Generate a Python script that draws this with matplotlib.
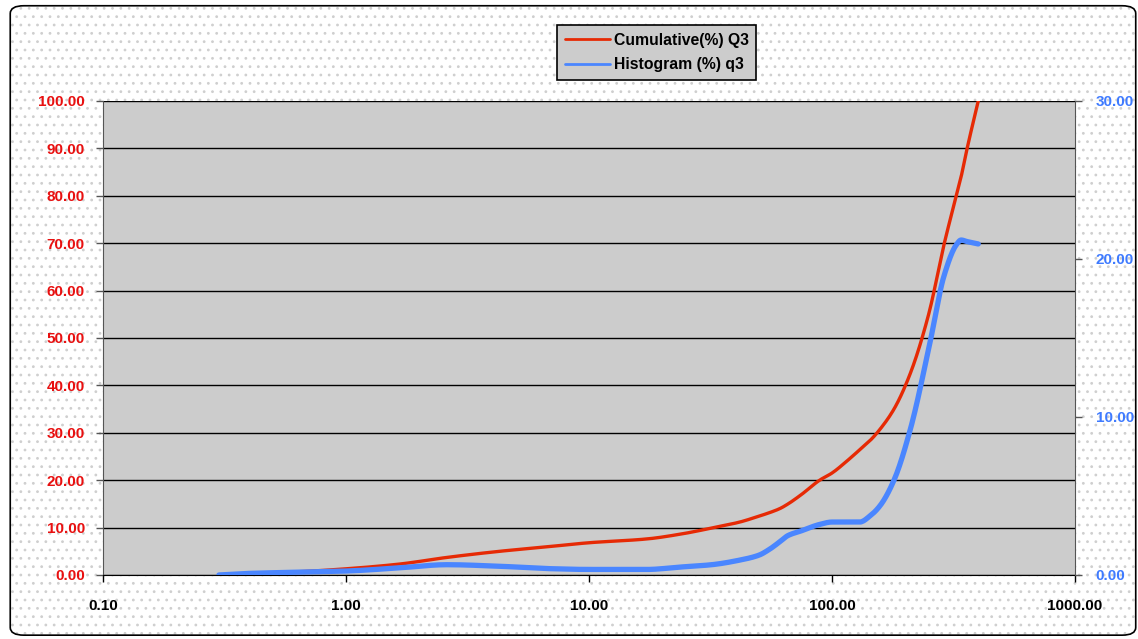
import matplotlib
matplotlib.use("Agg")
from matplotlib import pyplot as plt
from matplotlib.patches import FancyBboxPatch
import numpy as np

plt.rcParams['font.family'] = ['Liberation Sans', 'DejaVu Sans']
plt.rcParams['font.weight'] = 'bold'
plt.rcParams['hatch.linewidth'] = 0.8

# Particle size (log x) with cumulative Q3 (left axis) and histogram q3 (right axis)
size = [0.3, 0.4, 0.65, 1.0, 1.66, 2.6, 4.3, 6.9, 10, 17.3, 23.7, 32, 42, 50, 55, 61, 66,
        75, 89, 100, 115, 130, 145, 158, 180, 210, 250, 290, 325, 340, 360, 400]
cumulative = [0, 0.3, 0.7, 1.3, 2.3, 3.7, 5.0, 6.0, 6.8, 7.6, 8.6, 9.9, 11.2, 12.4, 13.1, 14.0, 15.0,
              17.0, 20.0, 21.5, 24.0, 26.4, 28.6, 30.8, 35.0, 42.5, 55.0, 70.0, 80.0, 84.0, 90.0, 100.0]
histogram = [0, 0.1, 0.18, 0.25, 0.45, 0.65, 0.55, 0.4, 0.35, 0.35, 0.5, 0.65, 0.95, 1.25, 1.6, 2.1, 2.5,
             2.8, 3.2, 3.35, 3.35, 3.35, 3.8, 4.4, 6.0, 9.2, 14.3, 19.0, 20.9, 21.2, 21.1, 20.95]

left_ticks = [0, 10, 20, 30, 40, 50, 60, 70, 80, 90, 100]
right_ticks = [0, 10, 20, 30]
x_ticks = [0.1, 1, 10, 100, 1000]

RED = '#e62a05'
RED_TXT = '#e81010'
BLUE = '#4a86ff'
BLUE_TXT = '#3f7bff'


def smooth(xs, ys, n=12):
    # monotone cubic (Fritsch-Carlson) in log-x, like the smoothed line of the original
    lx = np.log10(xs)
    y = np.asarray(ys, float)
    h = np.diff(lx)
    d = np.diff(y) / h
    m = np.zeros_like(y)
    m[0], m[-1] = d[0], d[-1]
    for i in range(1, len(y) - 1):
        if d[i - 1] * d[i] > 0:
            w1 = 2 * h[i] + h[i - 1]
            w2 = h[i] + 2 * h[i - 1]
            m[i] = (w1 + w2) / (w1 / d[i - 1] + w2 / d[i])
    out_x, out_y = [], []
    for i in range(len(h)):
        t = np.linspace(0, 1, n, endpoint=False)
        h00 = 2 * t**3 - 3 * t**2 + 1
        h10 = t**3 - 2 * t**2 + t
        h01 = -2 * t**3 + 3 * t**2
        h11 = t**3 - t**2
        out_x.extend(lx[i] + t * h[i])
        out_y.extend(h00 * y[i] + h10 * h[i] * m[i] + h01 * y[i + 1] + h11 * h[i] * m[i + 1])
    out_x.append(lx[-1])
    out_y.append(y[-1])
    return 10 ** np.array(out_x), np.array(out_y)


fig = plt.figure(figsize=(11.38, 6.39), dpi=100)
fig.patch.set_facecolor('white')

# dotted chart-area background with rounded border
bg = FancyBboxPatch((0.009, 0.006), 0.989, 0.985, boxstyle="round,pad=0,rounding_size=0.012",
                    transform=fig.transFigure, facecolor='white', edgecolor='#cfcfcf',
                    linewidth=0, hatch='..', zorder=0)
fig.add_artist(bg)
border = FancyBboxPatch((0.009, 0.006), 0.989, 0.985, boxstyle="round,pad=0,rounding_size=0.012",
                        transform=fig.transFigure, facecolor='none', edgecolor='black',
                        linewidth=1.2, zorder=1)
fig.add_artist(border)

ax = fig.add_axes([0.0905, 0.1002, 0.8541, 0.7418])
ax.set_facecolor('#cccccc')
ax.set_xscale('log')
ax.set_xlim(0.1, 1000)
ax.set_ylim(0, 100)
ax.set_xticks(x_ticks)
ax.set_xticklabels([f"{v:.2f}" for v in x_ticks])
ax.xaxis.set_minor_locator(matplotlib.ticker.NullLocator())
ax.set_yticks(left_ticks)
ax.set_yticklabels([f"{v:.2f}" for v in left_ticks])
ax.tick_params(axis='x', length=5, width=1, pad=12, labelsize=11, colors='black', direction='out')
ax.tick_params(axis='y', length=5, width=1, pad=8, labelsize=11, labelcolor=RED_TXT, color='#555555')
ax.grid(axis='y', color='black', linewidth=1)
ax.set_axisbelow(True)
for s in ['top', 'right']:
    ax.spines[s].set_visible(False)
ax.spines['left'].set_color('#555555')
ax.spines['bottom'].set_color('black')

sx, sy = smooth(size, cumulative)
l1, = ax.plot(sx, sy, color=RED, linewidth=2.4, solid_capstyle='round',
              label='Cumulative(%) Q3', zorder=3)

ax2 = ax.twinx()
ax2.set_ylim(0, 30)
ax2.set_yticks(right_ticks)
ax2.set_yticklabels([f"{v:.2f}" for v in right_ticks])
ax2.tick_params(axis='y', length=5, width=1, pad=10, labelsize=11, labelcolor=BLUE_TXT, color='#555555')
for s in ['top', 'left', 'bottom']:
    ax2.spines[s].set_visible(False)
ax2.spines['right'].set_color('#555555')
hx, hy = smooth(size, histogram)
l2, = ax2.plot(hx, hy, color=BLUE, linewidth=3.8, solid_capstyle='round',
               solid_joinstyle='round', label='Histogram (%) q3', zorder=3)

leg = fig.legend(handles=[l1, l2], loc='upper left', bbox_to_anchor=(557 / 1138, 1 - 25 / 639),
                 bbox_transform=fig.transFigure, fancybox=False, edgecolor='black',
                 facecolor='#cccccc', framealpha=1, fontsize=11.3, handlelength=2.9,
                 borderpad=0.5, labelspacing=0.6, handletextpad=0.2, borderaxespad=0)
leg.get_frame().set_linewidth(1.2)
for line in leg.get_lines():
    line.set_linewidth(2)

fig.savefig('out.png', dpi=100)
